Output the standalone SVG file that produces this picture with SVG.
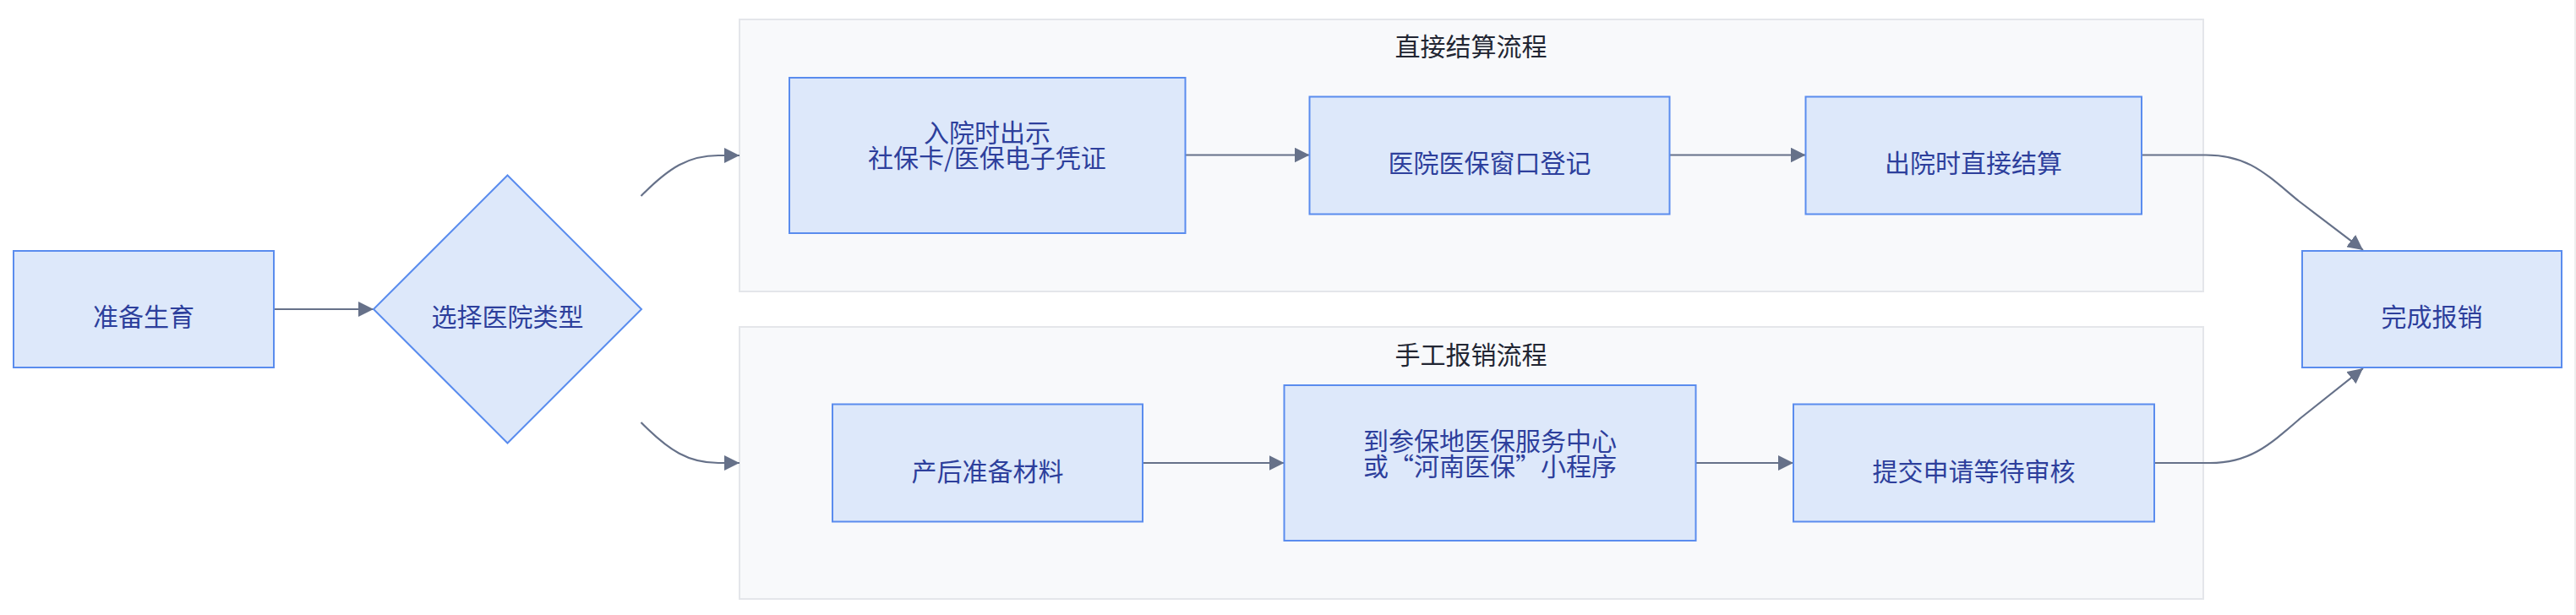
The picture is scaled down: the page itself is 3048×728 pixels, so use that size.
<svg xmlns="http://www.w3.org/2000/svg" width="3048" height="728" viewBox="0 0 3048 728">
<defs>
<style>
.cluster{fill:#f8f9fb;stroke:#e4e6ea;stroke-width:2}
.node{fill:#dde8fa;stroke:#5a8cee;stroke-width:2}
.nt{font-family:"Noto Sans CJK SC","Noto Sans",sans-serif;font-size:30px;fill:#2d3f9c;text-anchor:middle}
.ct{font-family:"Noto Sans CJK SC","Noto Sans",sans-serif;font-size:30px;fill:#222633;text-anchor:middle}
.edge{fill:none;stroke:#667189;stroke-width:2.2}
</style>
<marker id="arr" markerUnits="userSpaceOnUse" markerWidth="18" markerHeight="18" viewBox="0 0 10 10" refX="10" refY="5" orient="auto">
<path d="M0,0 L10,5 L0,10 z" fill="#667189"/>
</marker>
</defs>
<rect x="0" y="0" width="3048" height="728" fill="#ffffff"/>
<rect x="3046" y="0" width="2" height="728" fill="#eeeeee"/>

<g id="cluster-direct">
<rect class="cluster" x="875" y="23" width="1732" height="322"/>
<text class="ct" x="1740.5" y="66">直接结算流程</text>
</g>
<g id="cluster-manual">
<rect class="cluster" x="875" y="387" width="1732" height="322"/>
<text class="ct" x="1740.5" y="431">手工报销流程</text>
</g>

<g id="edges">
<path class="edge" d="M324,366 L442,366" marker-end="url(#arr)"/>
<path class="edge" d="M758.5,232 C792,198 815,184 850,184 L875,184" marker-end="url(#arr)"/>
<path class="edge" d="M758.5,500 C792,534 815,548 850,548 L875,548" marker-end="url(#arr)"/>
<path class="edge" d="M1402.5,183.5 L1549.5,183.5" marker-end="url(#arr)"/>
<path class="edge" d="M1975.5,183.5 L2136.5,183.5" marker-end="url(#arr)"/>
<path class="edge" d="M2534,183.5 L2610,183.5 C2660,183.5 2680,205 2720,238 L2796,296" marker-end="url(#arr)"/>
<path class="edge" d="M1352,548 L1519.5,548" marker-end="url(#arr)"/>
<path class="edge" d="M2006.5,548 L2122,548" marker-end="url(#arr)"/>
<path class="edge" d="M2549,548 L2615,548 C2662,548 2685,527 2722,495 L2796,436" marker-end="url(#arr)"/>
</g>

<g id="n-prepare">
<rect class="node" x="16" y="297" width="308" height="138"/>
<text class="nt" x="170" y="386">准备生育</text>
</g>
<g id="n-choose">
<polygon class="node" points="600.5,207.5 759,366 600.5,524.5 442,366"/>
<text class="nt" x="600.5" y="386">选择医院类型</text>
</g>
<g id="n-show">
<rect class="node" x="934" y="92" width="468.5" height="184"/>
<text class="nt" x="1168" y="168">入院时出示<tspan x="1168" dy="30">社保卡/医保电子凭证</tspan></text>
</g>
<g id="n-register">
<rect class="node" x="1549.5" y="114.5" width="426" height="139"/>
<text class="nt" x="1762.5" y="204">医院医保窗口登记</text>
</g>
<g id="n-settle">
<rect class="node" x="2136.5" y="114.5" width="397.5" height="139"/>
<text class="nt" x="2335" y="204">出院时直接结算</text>
</g>
<g id="n-materials">
<rect class="node" x="985" y="478.5" width="367" height="139"/>
<text class="nt" x="1168.5" y="569">产后准备材料</text>
</g>
<g id="n-center">
<rect class="node" x="1519.5" y="456" width="487" height="184"/>
<text class="nt" x="1763" y="533">到参保地医保服务中心<tspan x="1763" dy="30">或“河南医保”小程序</tspan></text>
</g>
<g id="n-submit">
<rect class="node" x="2122" y="478.5" width="427" height="139"/>
<text class="nt" x="2335.5" y="569">提交申请等待审核</text>
</g>
<g id="n-done">
<rect class="node" x="2724" y="297" width="307" height="138"/>
<text class="nt" x="2877.5" y="386">完成报销</text>
</g>
</svg>
